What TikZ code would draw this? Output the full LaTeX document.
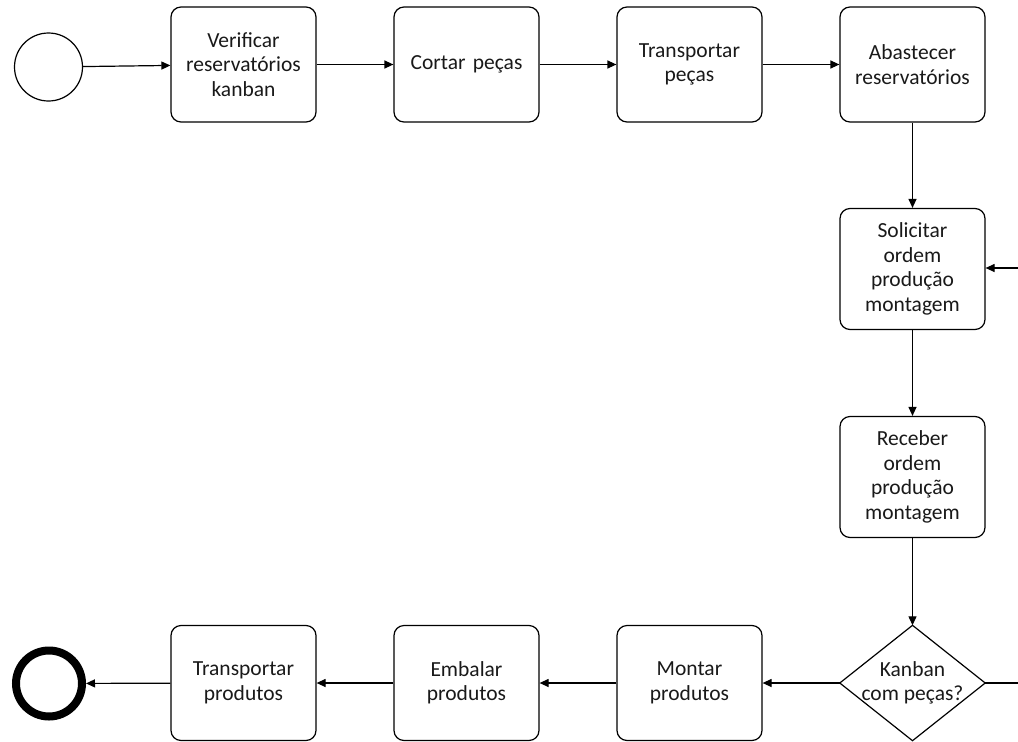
\documentclass[tikz,border=0pt]{standalone}
\usepackage{fontspec}
\setmainfont{Carlito}
\usetikzlibrary{arrows.meta}
\begin{document}
\begin{tikzpicture}[x=1pt,y=-1pt,
  every node/.style={font=\fontsize{21.5}{24.5}\selectfont, text=black!90},
  task/.style={draw, line width=1.2pt, rounded corners=10pt, minimum width=145pt, minimum height=115pt, inner sep=0pt, align=center, text width=140pt},
  gate/.style={minimum width=145pt, minimum height=115pt, inner sep=0pt, align=center},
  flow/.style={line width=1.2pt, -{Triangle[length=9pt,width=8pt]}},
  plain/.style={line width=1.2pt}]
\useasboundingbox (0,0) rectangle (1018,742);

% start and end events
\node[draw, circle, line width=1.2pt, minimum size=68pt, inner sep=0pt] (start) at (48.5,67) {};
\node[draw, circle, line width=8pt, minimum size=66pt, inner sep=0pt] (stop) at (49,683.5) {};

% top row
\node[task] (verif) at (243.5,64.5) {Verificar\\reservatórios\\kanban};
\node[task] (cortar) at (466.5,64.5) {Cortar peças};
\node[task] (transp) at (689.5,64.5) {Transportar\\peças};
\node[task] (abast) at (912.5,64.5) {Abastecer\\reservatórios};

% right column
\node[task, minimum height=121pt] (solic) at (912.5,269) {Solicitar\\ordem\\produção\\montagem};
\node[task, minimum height=121pt] (receb) at (912.5,477) {Receber\\ordem\\produção\\montagem};

% decision gateway
\node[gate] (kanban) at (912.5,683) {Kanban\\com peças?};
\draw[line width=1.2pt, line join=miter] (kanban.north) -- (kanban.east) -- (kanban.south) -- (kanban.west) -- cycle;

% bottom row
\node[task] (montar) at (689.5,683) {Montar\\produtos};
\node[task] (embalar) at (466.5,683) {Embalar\\produtos};
\node[task] (transprod) at (243.5,683) {Transportar\\produtos};

% loop ends leaving the frame
\coordinate (loopin) at (1020,268);
\coordinate (loopout) at (1020,683);

% sequence flows
\draw[flow] (start) -- (verif);
\draw[flow] (verif) -- (cortar);
\draw[flow] (cortar) -- (transp);
\draw[flow] (transp) -- (abast);
\draw[flow] (abast) -- (solic);
\draw[flow] (loopin) -- (solic.east |- loopin);
\draw[flow] (solic) -- (receb);
\draw[flow] (receb) -- (kanban.north);
\draw[plain] (kanban.east) -- (loopout);
\draw[flow] (kanban.west) -- (montar);
\draw[flow] (montar) -- (embalar);
\draw[flow] (embalar) -- (transprod);
\draw[flow] (transprod) -- (stop);
\end{tikzpicture}
\end{document}
